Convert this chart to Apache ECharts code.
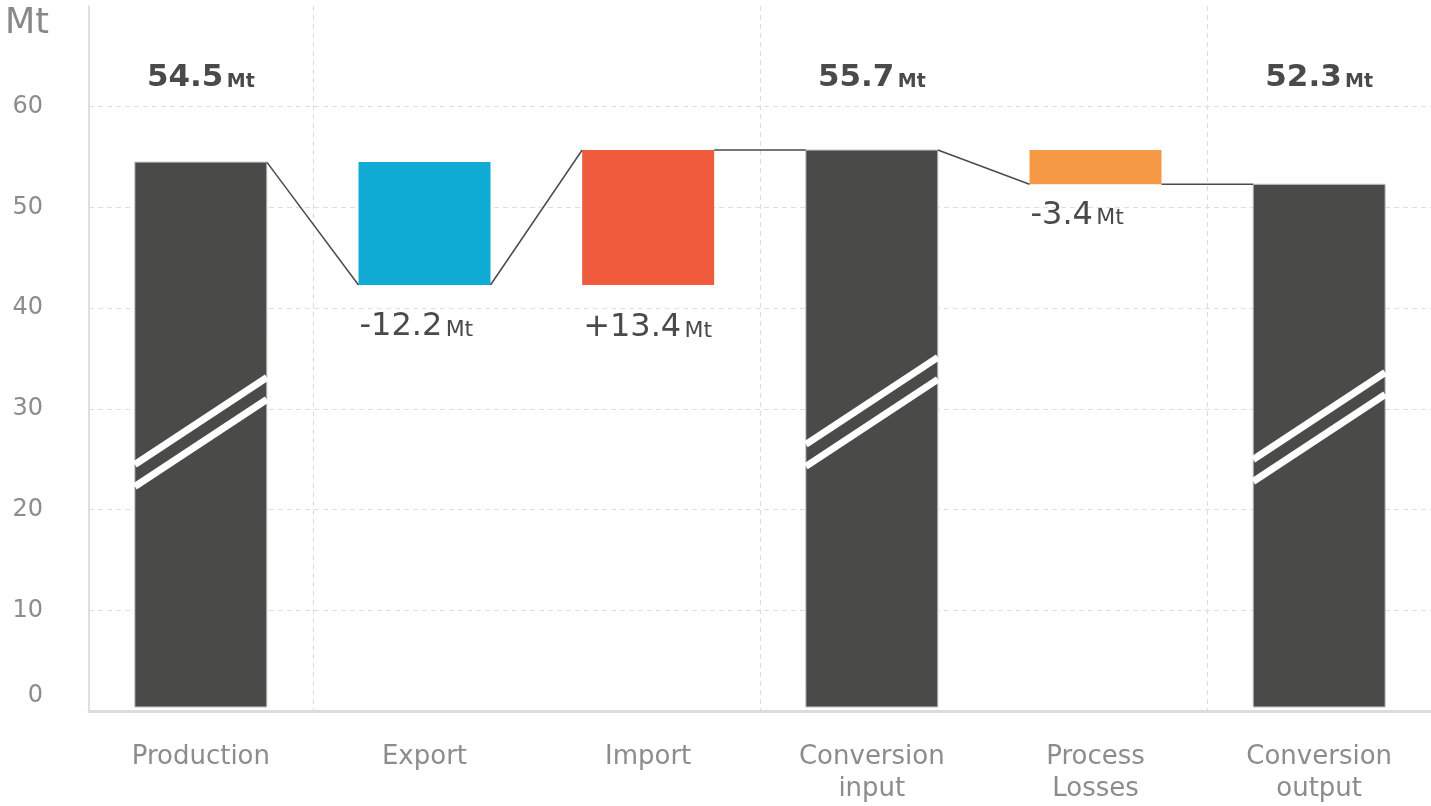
<!DOCTYPE html>
<html><head><meta charset="utf-8">
<script src="https://cdn.jsdelivr.net/npm/echarts@6/dist/echarts.min.js"></script>
<style>html,body{margin:0;padding:0;background:#fff}#c{width:1431px;height:806px}</style>
</head><body><div id="c"></div>
<script>
// ---- data ----
const categories = ['Production', 'Export', 'Import', 'Conversion\ninput', 'Process\nLosses', 'Conversion\noutput'];
const values = [54.5, -12.2, 13.4, 55.7, -3.4, 52.3];
const kinds = ['total', 'delta', 'delta', 'total', 'delta', 'total'];
const yTicks = [0, 10, 20, 30, 40, 50, 60];
const yMax = 70;
const unit = 'Mt';

// ---- styles ----
const FONT = 'DejaVu Sans';
const barColors = ['#4a4a48', '#10abd4', '#ef5b3c', '#4a4a48', '#f69946', '#4a4a48'];
const breakAtValue = [27.7, null, null, 29.7, null, 28.2];
const labelGap = [null, 42, 43, null, 31, null];
const BAR_W = 132;

// running totals
const starts = [], ends = [];
let run = 0;
values.forEach((v, i) => {
  if (kinds[i] === 'total') { starts.push(0); ends.push(v); run = v; }
  else { starts.push(run); ends.push(run + v); run = run + v; }
});
const seriesData = categories.map((c, i) => [i, starts[i], ends[i]]);

function fmt(i) {
  const v = values[i];
  if (kinds[i] === 'total') return v.toFixed(1);
  return (v > 0 ? '+' : '-') + Math.abs(v).toFixed(1);
}

function renderItem(params, api) {
  const i = params.dataIndex;
  const cs = params.coordSys;
  const band = api.size([1, 0])[0];
  const cx = api.coord([i, 0])[0];
  const yS = api.coord([i, starts[i]])[1];
  const yE = api.coord([i, ends[i]])[1];
  let top = Math.min(yS, yE), bot = Math.max(yS, yE);
  if (starts[i] === 0) bot -= 4;
  const L = cx - BAR_W / 2, R = cx + BAR_W / 2;
  const isTotal = kinds[i] === 'total';
  const ch = [];
  if (i % 2 === 1) {
    const gx = Math.round(cx - band / 2) + 0.5;
    ch.push({ type: 'line', z2: 0, shape: { x1: gx, y1: cs.y, x2: gx, y2: cs.y + cs.height },
      style: { stroke: '#dcdcdc', lineWidth: 1, lineDash: [5, 4] } });
  }
  ch.push({ type: 'rect', z2: 2, shape: { x: L, y: top, width: BAR_W, height: bot - top },
    style: { fill: barColors[i], stroke: isTotal ? '#c6c6c6' : null, lineWidth: isTotal ? 1 : 0 } });
  if (isTotal && breakAtValue[i] != null) {
    const yc = api.coord([i, breakAtValue[i]])[1];
    [-11, 11].forEach(d => {
      ch.push({ type: 'line', z2: 3, shape: { x1: L, y1: yc + d + 43.5, x2: R, y2: yc + d - 43.5 },
        style: { stroke: '#ffffff', lineWidth: 7 } });
    });
  }
  if (i > 0) {
    const pR = api.coord([i - 1, 0])[0] + BAR_W / 2;
    const pY = api.coord([i - 1, ends[i - 1]])[1];
    ch.push({ type: 'line', z2: 4, shape: { x1: pR, y1: pY, x2: L, y2: yE },
      style: { stroke: '#4a4a4a', lineWidth: 1.5 } });
  }
  if (isTotal) {
    ch.push({ type: 'text', z2: 5, x: cx, y: 78, style: {
      text: '{v|' + fmt(i) + '} {u|' + unit + '}', align: 'center', verticalAlign: 'middle',
      rich: {
        v: { fontFamily: FONT, fontWeight: 'bold', fontSize: 31, fill: '#4a4a4a', verticalAlign: 'bottom' },
        u: { fontFamily: FONT, fontWeight: 'bold', fontSize: 19, fill: '#4a4a4a', verticalAlign: 'bottom', padding: [0, 0, 2, 0] }
      } } });
  } else {
    ch.push({ type: 'text', z2: 5, x: L + 1, y: bot + labelGap[i], style: {
      text: '{v|' + fmt(i) + '} {u|' + unit + '}', align: 'left', verticalAlign: 'middle',
      rich: {
        v: { fontFamily: FONT, fontSize: 32, fill: '#4a4a4a', verticalAlign: 'bottom' },
        u: { fontFamily: FONT, fontSize: 22, fill: '#4a4a4a', verticalAlign: 'bottom', padding: [0, 0, 2, 0] }
      } } });
  }
  return { type: 'group', children: ch };
}

const chart = echarts.init(document.getElementById('c'), null, { renderer: 'canvas' });
chart.setOption({
  animation: false,
  backgroundColor: '#ffffff',
  grid: { left: 89, right: 0, top: 6, bottom: 95, containLabel: false },
  graphic: [{ type: 'text', left: 5, top: 6, style: { text: unit, fontFamily: FONT, fontSize: 35, fill: '#888888' } }],
  xAxis: {
    type: 'category', data: categories, boundaryGap: true,
    axisLine: { show: true, lineStyle: { color: '#dcdcdc', width: 3 } },
    axisTick: { show: false },
    splitLine: { show: false },
    axisLabel: { margin: 30, color: '#8c8c8c', fontSize: 26, lineHeight: 32, fontFamily: FONT, interval: 0 }
  },
  yAxis: {
    type: 'value', min: yTicks[0], max: yMax, interval: yTicks[1] - yTicks[0],
    axisLine: { show: true, lineStyle: { color: '#d6d6d6', width: 1.5 } },
    axisTick: { show: false },
    splitLine: { show: true, showMaxLine: false, showMinLine: false, lineStyle: { color: '#dedede', type: [5, 4], width: 1 } },
    axisLabel: {
      showMaxLabel: false, margin: 46, color: '#8c8c8c', fontSize: 24, fontFamily: FONT,
      formatter: v => (yTicks.indexOf(v) < 0 ? '' : (v === 0 ? '{z|0}' : String(v))),
      rich: { z: { padding: [0, 0, 30, 0], fontSize: 24, color: '#8c8c8c', fontFamily: FONT } }
    }
  },
  series: [{ type: 'custom', renderItem: renderItem, data: seriesData, encode: { x: 0, y: [1, 2] }, clip: false }]
});
</script></body></html>
